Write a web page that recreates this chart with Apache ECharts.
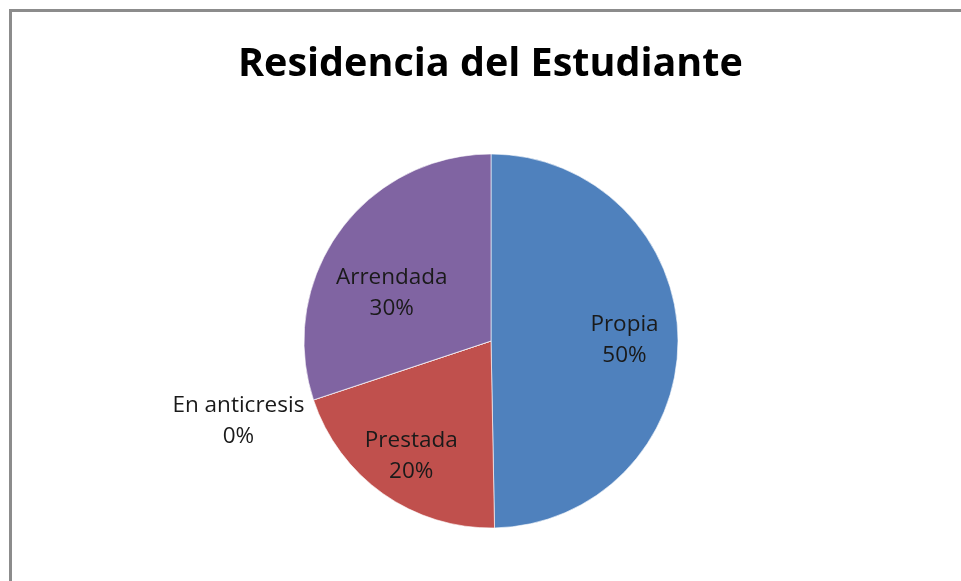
<!DOCTYPE html>
<html>
<head>
<meta charset="utf-8">
<script src="https://cdn.jsdelivr.net/npm/echarts@6/dist/echarts.min.js"></script>
<style>
  html, body { margin: 0; padding: 0; background: #fff; overflow: hidden; }
  #frame {
    position: absolute; left: 9px; top: 9px; width: 1000px; height: 620px;
    border-left: 3px solid #8c8c8c; border-top: 3px solid #8c8c8c;
  }
  #chart { position: absolute; left: 0; top: 0; width: 961px; height: 581px; }
</style>
</head>
<body>
<div id="frame"></div>
<div id="chart"></div>
<script>
// categories and shares (clockwise from 12 o'clock)
const categories = ['Propia', 'Prestada', 'En anticresis', 'Arrendada'];
const shares = [49.7, 20.2, 0, 30.1];
const colors = ['#4F81BD', '#C0504D', '#9BBB59', '#8064A2'];

// nudges so the labels sit where the original puts them
const labelOffsets = [[37, 0], [-24, 36], [-161, 50], [-21, 9]];

let chart = echarts.init(document.getElementById('chart'));

let data = categories.map((name, i) => {
  return {
    name: name,
    value: shares[i],
    itemStyle: { color: colors[i] },
    label: { offset: labelOffsets[i] }
  };
});

let option = {
  animation: false,
  title: {
    text: 'Residencia del Estudiante',
    left: 233,
    top: 40,
    textStyle: {
      fontFamily: 'Open Sans',
      fontWeight: 'bold',
      fontSize: 39.5,
      color: '#000'
    }
  },
  series: [{
    type: 'pie',
    center: [491, 341],
    radius: 187,
    startAngle: 90,
    clockwise: true,
    percentPrecision: 0,
    itemStyle: { borderColor: '#ffffff', borderWidth: 0.6 },
    label: {
      position: 'inside',
      formatter: '{b}\n{d}%',
      fontFamily: 'Open Sans',
      fontSize: 22.5,
      lineHeight: 31,
      color: '#1a1a1a',
      align: 'center'
    },
    data: data
  }]
};

chart.setOption(option);
</script>
</body>
</html>
